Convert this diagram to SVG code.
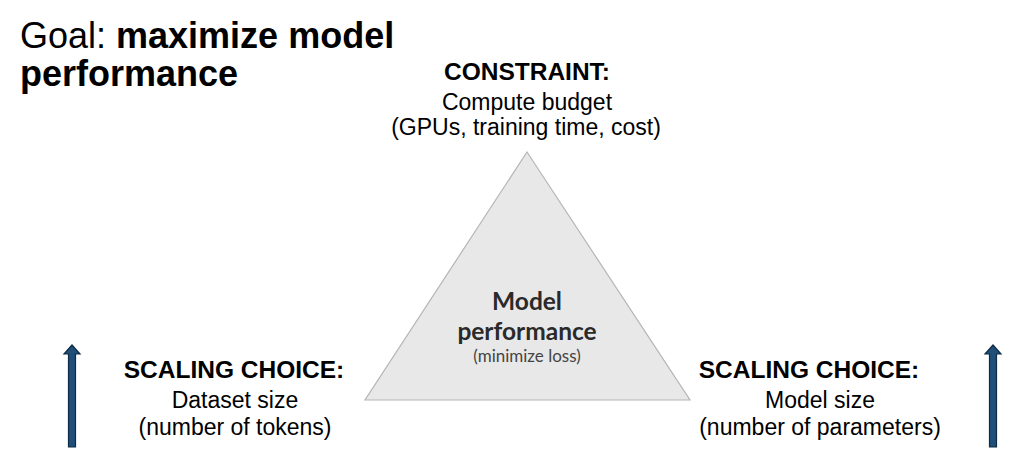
<svg xmlns="http://www.w3.org/2000/svg" width="1032" height="470" viewBox="0 0 1032 470">
<style>
  .t { font-family: "Liberation Sans", Arial, sans-serif; fill: #000; }
  .b { font-weight: bold; }
  .lbl { font-size: 24.5px; font-weight: bold; text-anchor: middle; }
  .sub { font-size: 23px; text-anchor: middle; }
  .tri { fill: #e8e8e8; stroke: #b5b5b5; stroke-width: 1.2; }
  .tt { font-family: Lato, "Liberation Sans", sans-serif; text-anchor: middle; }
  .arrow { fill: #1f4e79; stroke: #0f2b44; stroke-width: 1.2; }
</style>
<rect width="1032" height="470" fill="#fff"/>
<g id="title">
  <text class="t" x="20" y="48" font-size="36">Goal: <tspan class="b">maximize model</tspan></text>
  <text class="t b" x="20" y="86" font-size="36">performance</text>
</g>
<g id="constraint">
  <text class="t lbl" x="527" y="80">CONSTRAINT:</text>
  <text class="t sub" x="527" y="110">Compute budget</text>
  <text class="t sub" x="526" y="135">(GPUs, training time, cost)</text>
</g>
<g id="performance">
  <polygon class="tri" points="527,152 365,400 690,400"/>
  <text class="tt" x="527" y="310" font-size="24.5" font-weight="bold" fill="#2a2a2a">Model</text>
  <text class="tt" x="527" y="340" font-size="24.5" font-weight="bold" fill="#2a2a2a">performance</text>
  <text class="tt" x="527" y="362" font-size="17" fill="#444">(minimize loss)</text>
</g>
<g id="dataset">
  <text class="t lbl" x="234" y="378">SCALING CHOICE:</text>
  <text class="t sub" x="235" y="408">Dataset size</text>
  <text class="t sub" x="235" y="435">(number of tokens)</text>
</g>
<g id="modelsize">
  <text class="t lbl" x="809" y="378">SCALING CHOICE:</text>
  <text class="t sub" x="820" y="408">Model size</text>
  <text class="t sub" x="820" y="435">(number of parameters)</text>
</g>
<g id="connectors">
  <path class="arrow" d="M68.5,447 V354 H64 L72,345 L80,354 H75.5 V447 Z"/>
  <path class="arrow" d="M989.5,447 V354 H985 L993,345 L1001,354 H996.5 V447 Z"/>
</g>
</svg>
